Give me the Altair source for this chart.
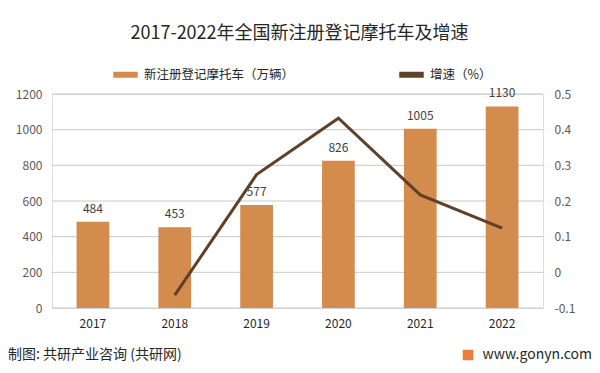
import altair as alt
import pandas as pd

years = ["2017", "2018", "2019", "2020", "2021", "2022"]
registrations = [484, 453, 577, 826, 1005, 1130]
growth = [None, -0.064, 0.274, 0.432, 0.217, 0.124]
bar_name = "新注册登记摩托车（万辆）"
line_name = "增速（%）"
left_ticks = [0, 200, 400, 600, 800, 1000, 1200]
right_ticks = [-0.1, 0, 0.1, 0.2, 0.3, 0.4, 0.5]
title_text = "2017-2022年全国新注册登记摩托车及增速"
footer_left = "制图: 共研产业咨询 (共研网)"
footer_right = "www.gonyn.com"

df = pd.DataFrame({"year": years, "reg": registrations, "growth": growth,
                   "bar_series": [bar_name] * len(years),
                   "line_series": [line_name] * len(years)})
grid_df = pd.DataFrame({"reg": left_ticks})
FONT = "Noto Sans CJK SC"
BAR_C = "#D48B4E"
LINE_C = "#5E4129"

color_scale = alt.Scale(domain=[bar_name, line_name], range=[BAR_C, LINE_C])
legend = alt.Legend(
    title=None, orient="none", direction="horizontal", legendX=58, legendY=-35,
    symbolType="stroke", symbolSize=600, symbolStrokeWidth=6,
    labelFont=FONT, labelFontSize=12.5, labelColor="#262626",
    columnPadding=92, symbolOffset=0, labelOffset=3,
)

x = alt.X(
    "year:N", sort=years, title=None,
    scale=alt.Scale(paddingInner=0.6, paddingOuter=0.3),
    axis=alt.Axis(labelAngle=0, domain=False, ticks=False, labelPadding=10,
                  labelFontSize=12, labelColor="#262626", labelFont=FONT),
)

y_left = alt.Y("reg:Q", title=None, scale=alt.Scale(domain=[0, 1200], nice=False),
               axis=alt.Axis(values=left_ticks, orient="left", domain=False, ticks=False,
                             format="d", labelOverlap=False, labelFlush=False,
                             labelPadding=10, labelFontSize=12, labelColor="#595959",
                             labelFont=FONT, grid=False))

gridlines = alt.Chart(grid_df).mark_rule(color="#C8C8C8", strokeWidth=1).encode(
    y=y_left,
)

bars = alt.Chart(df).mark_bar().encode(
    x=x,
    y=y_left,
    color=alt.Color("bar_series:N", scale=color_scale, legend=legend),
)

labels = alt.Chart(df).mark_text(baseline="bottom", dy=-6, fontSize=12, font=FONT,
                                 color="#404040").encode(
    x=x,
    y=y_left,
    text=alt.Text("reg:Q"),
)

foot = pd.DataFrame({"t": [footer_left]})
footer_l = alt.Chart(foot).mark_text(align="left", baseline="middle", fontSize=14,
                                     font=FONT, color="#262626").encode(
    x=alt.value(-44), y=alt.value(261), text="t:N")
foot2 = pd.DataFrame({"t": [footer_right]})
footer_r = alt.Chart(foot2).mark_text(align="right", baseline="middle", fontSize=14,
                                      font=FONT, color="#262626").encode(
    x=alt.value(540), y=alt.value(261), text="t:N")
icon = alt.Chart(foot2).mark_point(shape="square", filled=True, size=110,
                                   color="#EE7B3A", opacity=1).encode(
    x=alt.value(416), y=alt.value(261))

line = alt.Chart(df).mark_line(strokeWidth=3).encode(
    x=x,
    y=alt.Y("growth:Q", title=None, scale=alt.Scale(domain=[-0.1, 0.5], nice=False, zero=False),
            axis=alt.Axis(values=right_ticks, orient="right", domain=False, ticks=False,
                          labelOverlap=False, labelFlush=False,
                          labelPadding=11, labelFontSize=12, labelColor="#595959",
                          labelFont=FONT, grid=False,
                          labelExpr="toString(datum.value)")),
    color=alt.Color("line_series:N", scale=color_scale, legend=legend),
)

chart = alt.layer(
    alt.layer(gridlines, bars, labels, footer_l, footer_r, icon), line
).resolve_scale(y="independent").properties(
    width=491, height=214,
    autosize=alt.AutoSizeParams(type="none"),
    padding={"left": 44, "top": 86, "right": 49, "bottom": 57},
    title=alt.TitleParams(title_text, font=FONT, fontSize=18, fontWeight="normal",
                          color="#262626", anchor="middle", offset=16, dx=2),
).configure_view(stroke=None).configure(background="white")

chart.save("out.html", embed_options={"renderer": "svg", "actions": False})
